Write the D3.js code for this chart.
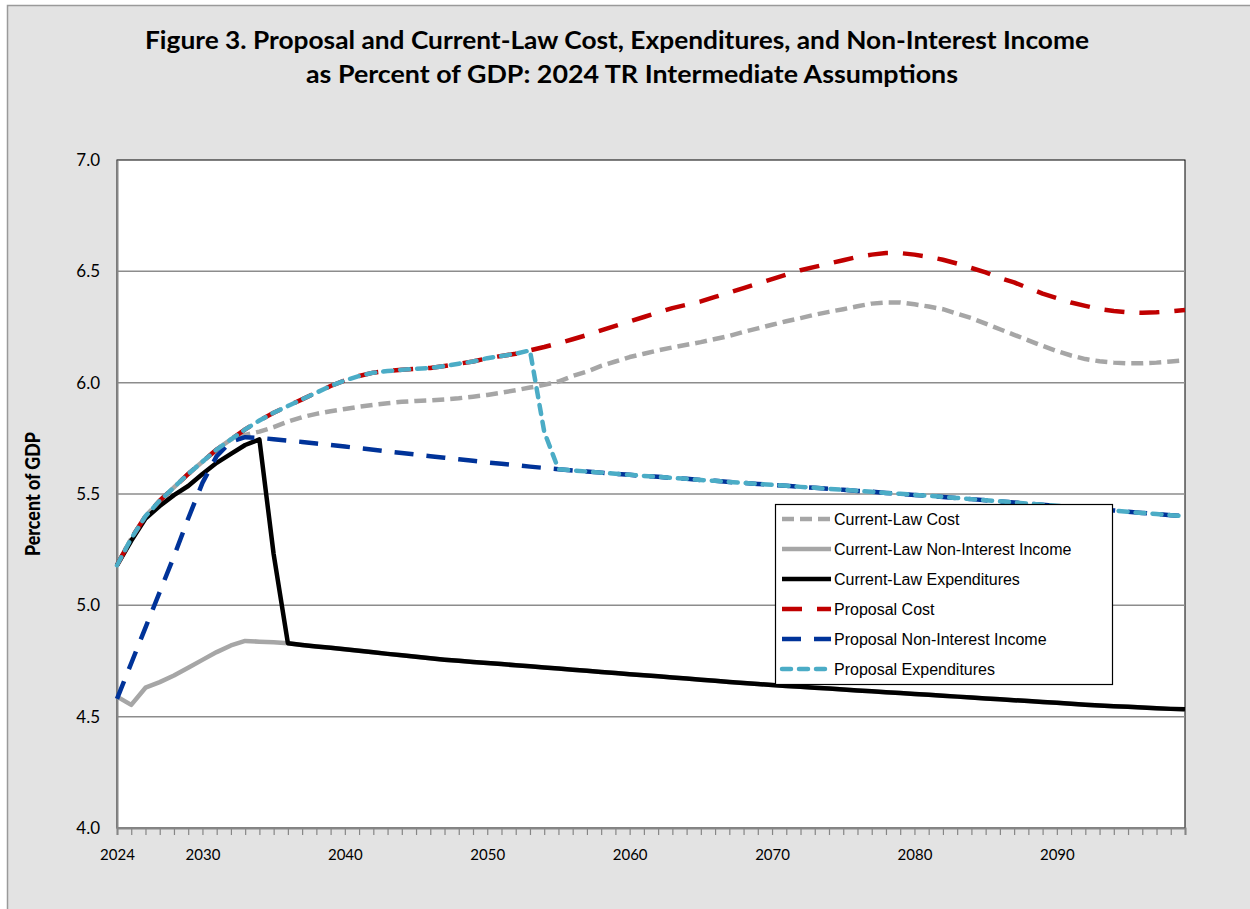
<!DOCTYPE html>
<html lang="en">
<head>
<title>Figure 3</title>
<meta charset="utf-8">
<script src="https://d3js.org/d3.v7.min.js"></script>
<style>
	body { margin: 0; background: #ffffff; }
	svg { display: block; }
	.tick text { font-family: Lato, "Open Sans", sans-serif; fill: #000; }
</style>
</head>
<body>
<div id="chart"></div>

<script type="text/javascript">
	// data, one value per year 2024-2099
	var years = d3.range(2024, 2100);
	var xLabels = [2024, 2030, 2040, 2050, 2060, 2070, 2080, 2090];
	var yTicks = [4.0, 4.5, 5.0, 5.5, 6.0, 6.5, 7.0];

	var clCost = [
		5.18, 5.30, 5.40, 5.47, 5.53, 5.59, 5.645, 5.70, 5.745, 5.765,        // 2024-2033
		5.78, 5.80, 5.825, 5.845, 5.86, 5.872, 5.882, 5.892, 5.90, 5.908,     // 2034-2043
		5.914, 5.918, 5.921, 5.925, 5.93, 5.937, 5.945, 5.955, 5.966, 5.978,  // 2044-2053
		5.99, 6.005, 6.03, 6.05, 6.075, 6.095, 6.115, 6.13, 6.145, 6.158,     // 2054-2063
		6.17, 6.182, 6.196, 6.21, 6.228, 6.244, 6.26, 6.276, 6.29, 6.305,     // 2064-2073
		6.318, 6.33, 6.343, 6.355, 6.36, 6.36, 6.352, 6.342, 6.33, 6.31,      // 2074-2083
		6.29, 6.265, 6.24, 6.215, 6.19, 6.165, 6.142, 6.122, 6.106, 6.096,    // 2084-2093
		6.09, 6.087, 6.087, 6.09, 6.095, 6.10                                 // 2094-2099
	];
	var clNII = [
		4.59, 4.553, 4.63, 4.655, 4.685, 4.72, 4.755, 4.79, 4.82, 4.84,
		4.837, 4.834, 4.83, 4.822, 4.815, 4.809, 4.803, 4.796, 4.789, 4.782,
		4.776, 4.769, 4.762, 4.756, 4.751, 4.746, 4.741, 4.736, 4.731, 4.726,
		4.721, 4.716, 4.711, 4.706, 4.701, 4.696, 4.691, 4.686, 4.681, 4.676,
		4.671, 4.666, 4.661, 4.656, 4.651, 4.647, 4.642, 4.638, 4.634, 4.630,
		4.626, 4.622, 4.618, 4.614, 4.610, 4.606, 4.602, 4.598, 4.594, 4.590,
		4.586, 4.582, 4.578, 4.574, 4.570, 4.566, 4.562, 4.558, 4.554, 4.550,
		4.547, 4.544, 4.541, 4.538, 4.535, 4.533
	];
	var clExp = [
		5.18, 5.29, 5.39, 5.446, 5.495, 5.536, 5.59, 5.64, 5.68, 5.72,
		5.745, 5.23, 4.83, 4.822, 4.815, 4.809, 4.803, 4.796, 4.789, 4.782,
		4.776, 4.769, 4.762, 4.756, 4.751, 4.746, 4.741, 4.736, 4.731, 4.726,
		4.721, 4.716, 4.711, 4.706, 4.701, 4.696, 4.691, 4.686, 4.681, 4.676,
		4.671, 4.666, 4.661, 4.656, 4.651, 4.647, 4.642, 4.638, 4.634, 4.630,
		4.626, 4.622, 4.618, 4.614, 4.610, 4.606, 4.602, 4.598, 4.594, 4.590,
		4.586, 4.582, 4.578, 4.574, 4.570, 4.566, 4.562, 4.558, 4.554, 4.550,
		4.547, 4.544, 4.541, 4.538, 4.535, 4.533
	];
	var propCost = [
		5.18, 5.30, 5.40, 5.47, 5.53, 5.59, 5.645, 5.70, 5.745, 5.79,
		5.83, 5.865, 5.895, 5.925, 5.955, 5.985, 6.01, 6.03, 6.045, 6.052,
		6.058, 6.062, 6.066, 6.075, 6.085, 6.095, 6.11, 6.12, 6.13, 6.145,
		6.16, 6.177, 6.195, 6.214, 6.235, 6.255, 6.275, 6.295, 6.315, 6.335,
		6.35, 6.365, 6.385, 6.405, 6.425, 6.445, 6.465, 6.485, 6.505, 6.52,
		6.535, 6.55, 6.565, 6.575, 6.582, 6.582, 6.575, 6.565, 6.552, 6.535,
		6.515, 6.495, 6.47, 6.45, 6.425, 6.40, 6.38, 6.36, 6.345, 6.33,
		6.322, 6.316, 6.314, 6.316, 6.32, 6.326
	];
	var propNII = [
		4.58, 4.74, 4.90, 5.06, 5.22, 5.39, 5.55, 5.67, 5.735, 5.755,
		5.752, 5.746, 5.74, 5.734, 5.727, 5.72, 5.713, 5.706, 5.699, 5.691,
		5.684, 5.677, 5.67, 5.663, 5.656, 5.649, 5.642, 5.636, 5.63, 5.623,
		5.617, 5.611, 5.606, 5.601, 5.596, 5.591, 5.586, 5.581, 5.577, 5.572,
		5.568, 5.563, 5.559, 5.554, 5.55, 5.545, 5.541, 5.537, 5.532, 5.528,
		5.523, 5.519, 5.514, 5.51, 5.505, 5.501, 5.496, 5.492, 5.487, 5.482,
		5.477, 5.472, 5.467, 5.462, 5.457, 5.452, 5.447, 5.442, 5.437, 5.431,
		5.426, 5.42, 5.415, 5.41, 5.405, 5.40
	];
	var propExp = [
		5.18, 5.30, 5.40, 5.47, 5.53, 5.59, 5.645, 5.70, 5.745, 5.79,
		5.83, 5.865, 5.895, 5.925, 5.955, 5.985, 6.01, 6.03, 6.045, 6.052,
		6.058, 6.062, 6.066, 6.075, 6.085, 6.095, 6.11, 6.12, 6.13, 6.145,
		5.78, 5.611, 5.606, 5.601, 5.596, 5.591, 5.586, 5.581, 5.577, 5.572,
		5.568, 5.563, 5.559, 5.554, 5.55, 5.545, 5.541, 5.537, 5.532, 5.528,
		5.523, 5.519, 5.514, 5.51, 5.505, 5.501, 5.496, 5.492, 5.487, 5.482,
		5.477, 5.472, 5.467, 5.462, 5.457, 5.452, 5.447, 5.442, 5.437, 5.431,
		5.426, 5.42, 5.415, 5.41, 5.405, 5.40
	];

	var seriesNames = ['Current-Law Cost', 'Current-Law Non-Interest Income', 'Current-Law Expenditures',
					   'Proposal Cost', 'Proposal Non-Interest Income', 'Proposal Expenditures'];
	var seriesValues = [clCost, clNII, clExp, propCost, propNII, propExp];
	var seriesColors = ['#a6a6a6', '#a6a6a6', '#000000', '#c00000', '#003399', '#4bacc6'];
	var seriesDash = ['12,6', null, null, '20,15', '19,13', '9,8'];
	var seriesCap = ['butt', 'butt', 'butt', 'butt', 'butt', 'round'];

	// layout
	var W = 1250, H = 909;
	var margin = {top: 160, right: 65, bottom: 81, left: 117},
		width = W - margin.left - margin.right,
		height = H - margin.top - margin.bottom;

	var svg = d3.select("#chart")
				.append("svg")
				.attr("width", W)
				.attr("height", H);

	// chart area background
	svg.append("rect")
		.attr("x", 7.5).attr("y", 5.5)
		.attr("width", W + 20).attr("height", H + 20)
		.style("fill", "#e3e3e3")
		.style("stroke", "#9a9a9a")
		.style("stroke-width", 1.5);

	// title
	var title = svg.append("text")
		.attr("text-anchor", "middle")
		.style("font-family", "Lato, 'Open Sans', sans-serif")
		.style("font-weight", "bold")
		.style("font-size", "24px")
		.style("fill", "#000");
	title.append("tspan").attr("x", 617).attr("y", 49)
		.attr("textLength", 944).attr("lengthAdjust", "spacingAndGlyphs")
		.text("Figure 3. Proposal and Current-Law Cost, Expenditures, and Non-Interest Income");
	title.append("tspan").attr("x", 632).attr("y", 83)
		.attr("textLength", 652).attr("lengthAdjust", "spacingAndGlyphs")
		.text("as Percent of GDP: 2024 TR Intermediate Assumptions");

	var g = svg.append("g")
		.attr("transform", "translate(" + margin.left + "," + margin.top + ")");

	var x = d3.scaleLinear().domain([2024, 2099]).range([0, width]);
	var y = d3.scaleLinear().domain([4, 7]).range([height, 0]);

	// plot area
	g.append("rect")
		.attr("width", width).attr("height", height)
		.style("fill", "#fff")
		.style("stroke", "#000")
		.style("stroke-width", 1);

	// gridlines
	g.selectAll(".grid")
		.data(yTicks.slice(1, -1))
		.enter()
		.append("line")
		.attr("x1", 0).attr("x2", width)
		.attr("y1", function(d) { return y(d); })
		.attr("y2", function(d) { return y(d); })
		.style("stroke", "#8c8c8c")
		.style("stroke-width", 1.5);

	// y axis
	var yAxis = g.append("g")
		.call(d3.axisLeft(y).tickValues(yTicks).tickSize(0).tickPadding(17).tickFormat(d3.format(".1f")));
	yAxis.select(".domain").style("stroke", "#868686").style("stroke-width", 2);
	yAxis.selectAll("text").style("font-size", "17px");

	// x axis
	var xAxis = g.append("g")
		.attr("transform", "translate(0," + height + ")")
		.call(d3.axisBottom(x).tickValues(years).tickSize(7).tickPadding(14)
			.tickFormat(function(d) { return xLabels.indexOf(d) >= 0 ? d : ""; }));
	xAxis.select(".domain").style("stroke", "#868686").style("stroke-width", 2);
	xAxis.selectAll(".tick line").style("stroke", "#868686").style("stroke-width", 1.2);
	xAxis.selectAll("text").style("font-size", "15px");

	// y axis title
	svg.append("text")
		.attr("transform", "translate(40,494) rotate(-90)")
		.attr("text-anchor", "middle")
		.attr("textLength", 124).attr("lengthAdjust", "spacingAndGlyphs")
		.style("font-family", "Lato, 'Open Sans', sans-serif")
		.style("font-weight", "900")
		.style("font-size", "21px")
		.text("Percent of GDP");

	// lines
	var line = d3.line()
		.x(function(d, i) { return x(years[i]); })
		.y(function(d) { return y(d); });

	for (var i = 0; i < seriesValues.length; i++) {
		g.append("path")
			.datum(seriesValues[i])
			.attr("d", line)
			.style("fill", "none")
			.style("stroke", seriesColors[i])
			.style("stroke-width", 4.5)
			.style("stroke-linejoin", "round")
			.style("stroke-linecap", seriesCap[i])
			.style("stroke-dasharray", seriesDash[i]);
	}

	// legend
	var lx = 775, ly = 504;
	var legend = svg.append("g").attr("transform", "translate(" + lx + "," + ly + ")");
	legend.append("rect")
		.attr("x", 0.5).attr("y", 0.5)
		.attr("width", 337).attr("height", 180)
		.style("fill", "#fff")
		.style("stroke", "#000")
		.style("stroke-width", 1.2);

	for (var j = 0; j < seriesNames.length; j++) {
		var yy = 15 + j * 30;
		legend.append("line")
			.attr("x1", 7).attr("x2", 56)
			.attr("y1", yy).attr("y2", yy)
			.style("stroke", seriesColors[j])
			.style("stroke-width", 4.5)
			.style("stroke-linecap", seriesCap[j])
			.style("stroke-dasharray", seriesDash[j]);
		legend.append("text")
			.attr("x", 59).attr("y", yy)
			.attr("dy", "0.35em")
			.style("font-family", "'Liberation Sans', Arial, sans-serif")
			.style("font-size", "16px")
			.text(seriesNames[j]);
	}
</script>

</body>
</html>
